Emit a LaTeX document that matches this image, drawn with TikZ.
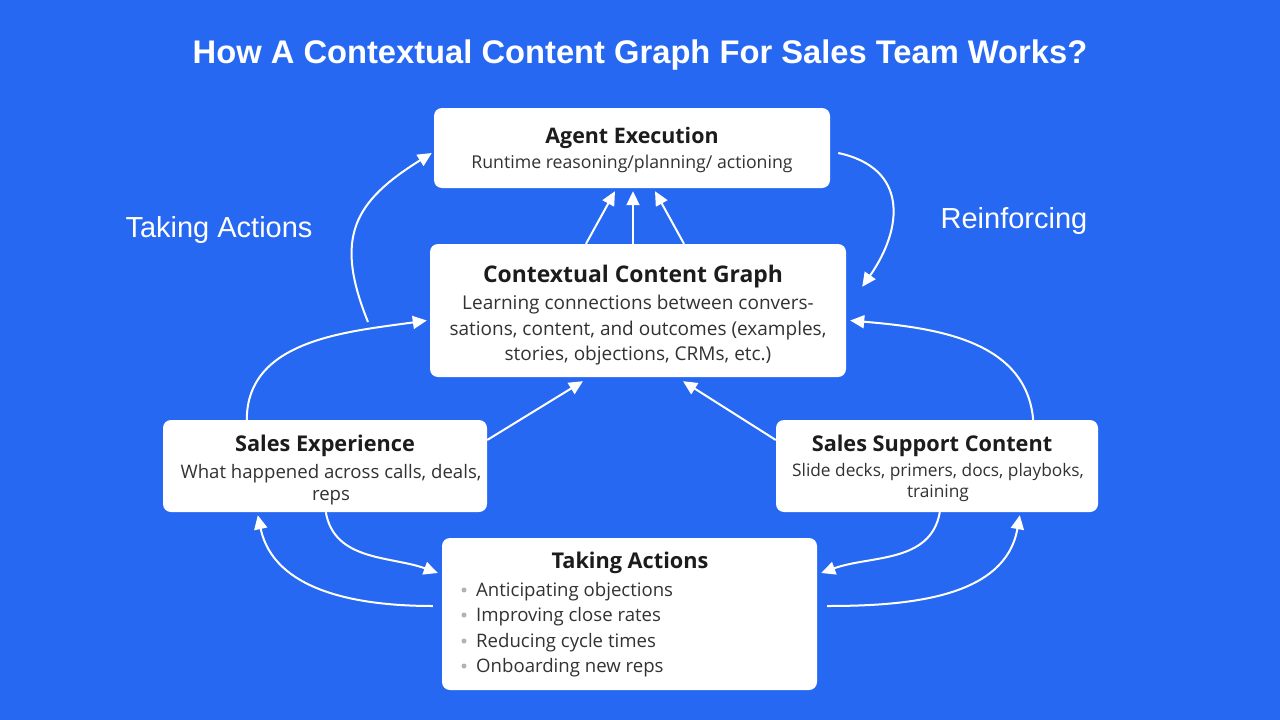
\documentclass[tikz,border=0pt]{standalone}
\usepackage{fontspec}
\setmainfont{Open Sans}
\newfontfamily\titlefont{Liberation Sans}
\usetikzlibrary{arrows.meta,calc}
\definecolor{bg}{RGB}{38,104,241}
\definecolor{boxtext}{RGB}{28,28,28}
\definecolor{subtext}{RGB}{50,50,50}
\newcommand{\fs}[2]{\fontsize{#1}{#2}\selectfont}
\begin{document}
\begin{tikzpicture}[x=1pt,y=-1pt,
  box/.style={draw=none,fill=white,rounded corners=8pt,inner sep=0pt},
  ttl/.style={font=\fs{21.7}{26}\bfseries,text=boxtext,inner sep=0pt},
  sub/.style={text=subtext,align=center,inner sep=0pt},
  item/.style={font=\fs{18.6}{22},text=subtext,anchor=west,inner sep=0pt},
  dotb/.style={circle,fill=gray!60,inner sep=0pt,minimum size=5pt},
  arr/.style={draw=white,line width=2pt,-{Triangle[width=13pt,length=14pt]}},
  lbl/.style={font=\titlefont\fs{29}{34},text=white}]
\useasboundingbox (0,0) rectangle (1280,720);
\fill[bg] (0,0) rectangle (1280,720);

\node[font=\titlefont\bfseries\fs{32.7}{38},text=white] (title) at (640,55) {How A Contextual Content Graph For Sales Team Works?};

\node[lbl] (lta) at (219,230) {Taking Actions};
\node[lbl] (lre) at (1014,221) {Reinforcing};

% boxes
\node[box,minimum width=396pt,minimum height=80pt] (ae) at (632,148) {};
\node[box,minimum width=416pt,minimum height=133pt] (ccg) at (638,310.5) {};
\node[box,minimum width=324pt,minimum height=92pt] (se) at (325,466) {};
\node[box,minimum width=322pt,minimum height=92pt] (ssc) at (937,466) {};
\node[box,minimum width=375pt,minimum height=152pt] (ta) at (629.5,614) {};

% texts
\node[ttl,font=\fs{21.4}{26}\bfseries] (aet) at (632,137.5) {Agent Execution};
\node[sub,font=\fs{17.7}{22}] (aes) at (632,164) {Runtime reasoning/planning/ actioning};
\node[ttl,font=\fs{22.9}{27}\bfseries] (ccgt) at (633,276.5) {Contextual Content Graph};
\node[sub,font=\fs{19}{25.5}] (ccgs) at (638,330.5) {Learning connections between convers-\\sations, content, and outcomes (examples,\\stories, objections, CRMs, etc.)};
\node[ttl] (set) at (325,445.5) {Sales Experience};
\node[sub,font=\fs{18.6}{22}] (ses) at (331,484.5) {What happened across calls, deals,\\reps};
\node[ttl] (ssct) at (932,445.5) {Sales Support Content};
\node[sub,font=\fs{17.3}{21}] (sscs) at (938,482.5) {Slide decks, primers, docs, playboks,\\training};
\node[ttl] (tat) at (630,562.5) {Taking Actions};
\node[item] (i1) at (476,591.5) {Anticipating objections};
\node[item] (i2) at (476,616.5) {Improving close rates};
\node[item] (i3) at (476,642.5) {Reducing cycle times};
\node[item] (i4) at (476,667.5) {Onboarding new reps};
\node[dotb] (d1) at (464,590) {};
\node[dotb] (d2) at (464,615) {};
\node[dotb] (d3) at (464,641) {};
\node[dotb] (d4) at (464,666) {};

% CCG -> AE
\draw[arr] ([xshift=-52pt]ccg.north) -- ([xshift=-17pt,yshift=-3pt]ae.south);
\draw[arr] ([xshift=-5pt]ccg.north) -- ([xshift=1pt,yshift=-3pt]ae.south);
\draw[arr] ([xshift=46pt]ccg.north) -- ([xshift=23pt,yshift=-3pt]ae.south);

% SE/SSC -> CCG straight
\draw[arr] ([yshift=26pt]se.east) -- ([xshift=-55pt,yshift=-4pt]ccg.south);
\draw[arr] ([yshift=26pt]ssc.west) -- ([xshift=45pt,yshift=-4pt]ccg.south);

% SE/SSC -> CCG arcs
\draw[arr] ([xshift=84pt]se.north west) to[out=90,in=188] ([xshift=-3pt,yshift=-10pt]ccg.west);
\draw[arr] ([xshift=-65pt]ssc.north east) to[out=95,in=-5] ([xshift=4pt,yshift=-10pt]ccg.east);

% Taking actions loop
\coordinate (tastart) at (368,322);
\draw[arr] (tastart) to[out=112,in=212,looseness=1.3] ([xshift=-2pt,yshift=-5pt]ae.west);
% Reinforcing loop
\draw[arr] ([xshift=8pt,yshift=-5pt]ae.east) to[out=-12,in=55,looseness=1.35] ([xshift=16pt,yshift=-43pt]ccg.north east);

% SE <-> TA
\draw[arr] ([xshift=163pt]se.south west) to[out=-80,in=160] ([xshift=-4pt,yshift=41pt]ta.west);
\draw[arr] ([xshift=-9pt,yshift=8pt]ta.west) to[out=180,in=-78] ([xshift=95pt,yshift=-3pt]se.south west);
% SSC <-> TA
\draw[arr] ([xshift=164pt]ssc.south west) to[out=-100,in=20] ([xshift=4pt,yshift=41pt]ta.east);
\draw[arr] ([xshift=10pt,yshift=8pt]ta.east) to[out=0,in=-100] ([xshift=244pt,yshift=-3pt]ssc.south west);
\end{tikzpicture}
\end{document}
